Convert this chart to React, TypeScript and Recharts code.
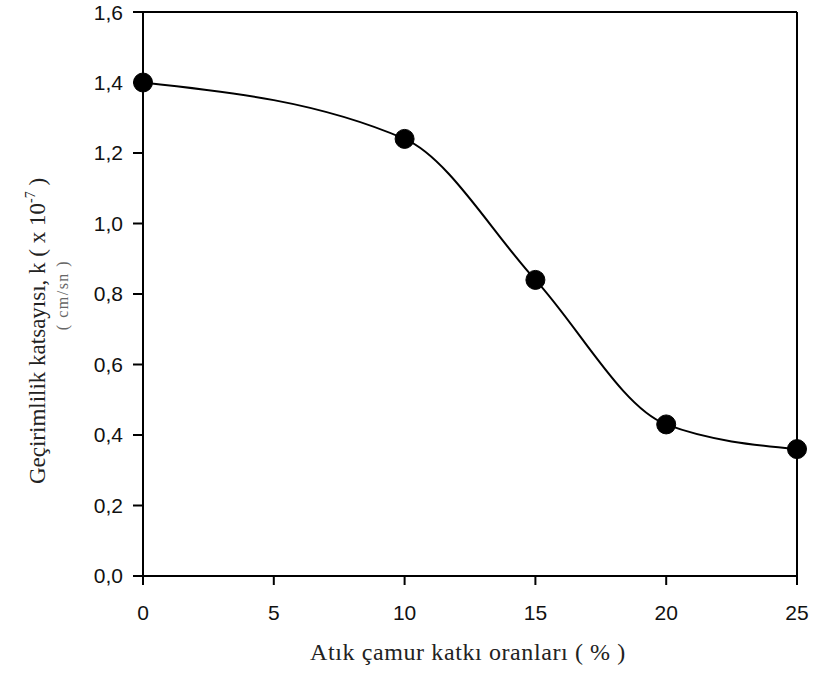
import { LineChart, Line, XAxis, YAxis, ReferenceLine } from "recharts";

// katkı oranı (%) and permeability k (x10^-7 cm/sn)
const ratios = [0, 10, 15, 20, 25];
const kValues = [1.4, 1.24, 0.84, 0.43, 0.36];
const xTicks = [0, 5, 10, 15, 20, 25];
const yTicks = [0, 0.2, 0.4, 0.6, 0.8, 1.0, 1.2, 1.4, 1.6];

const data = ratios.map((r, i) => ({ ratio: r, k: kValues[i] }));

const sans = "'Liberation Sans', Arial, sans-serif";
const serif = "'Liberation Serif', 'Times New Roman', serif";

const tickStyle = { fontFamily: sans, fontSize: 21, fill: "#111" };

function YTitle() {
  return (
    <g>
      <text
        x={45}
        y={331}
        transform="rotate(-90, 45, 331)"
        textAnchor="middle"
        fontFamily={serif}
        fontSize={23}
        fill="#222"
      >
        Geçirimlilik katsayısı, k ( x 10
        <tspan dy={-10} fontSize={14}>-7</tspan>
        <tspan dy={10}> )</tspan>
      </text>
      <text
        x={68}
        y={295}
        transform="rotate(-90, 68, 295)"
        textAnchor="middle"
        fontFamily={serif}
        fontSize={16}
        letterSpacing={1.5}
        fill="#666"
      >
        ( cm/sn )
      </text>
    </g>
  );
}

export default function App() {
  return (
    <div style={{ position: "absolute", left: 0, top: 0, background: "#fff" }}>
      <LineChart width={815} height={676} data={data} margin={{ top: 12, right: 18, bottom: 0, left: 0 }}>
        <XAxis
          dataKey="ratio"
          type="number"
          domain={[0, 25]}
          ticks={xTicks}
          height={100}
          tick={tickStyle}
          tickSize={9}
          tickMargin={20}
          axisLine={{ stroke: "#000", strokeWidth: 2 }}
          tickLine={{ stroke: "#000", strokeWidth: 2 }}
          label={{
            content: () => (
              <text
                x={468}
                y={660}
                textAnchor="middle"
                fontFamily={serif}
                fontSize={24}
                letterSpacing={0.6}
                fill="#222"
              >
                Atık çamur katkı oranları ( % )
              </text>
            ),
          }}
        />
        <YAxis
          type="number"
          domain={[0, 1.6]}
          ticks={yTicks}
          width={143}
          tick={tickStyle}
          tickSize={10}
          tickMargin={10}
          tickFormatter={(v: number) => v.toFixed(1).replace(".", ",")}
          axisLine={{ stroke: "#000", strokeWidth: 2 }}
          tickLine={{ stroke: "#000", strokeWidth: 2 }}
          label={{ content: () => <YTitle /> }}
        />
        <ReferenceLine y={1.6} stroke="#000" strokeWidth={2} />
        <ReferenceLine x={25} stroke="#000" strokeWidth={2} />
        <Line
          type="monotone"
          dataKey="k"
          stroke="#000"
          strokeWidth={2}
          dot={{ r: 9.5, fill: "#000", stroke: "#000", strokeWidth: 1 }}
          isAnimationActive={false}
        />
      </LineChart>
    </div>
  );
}
